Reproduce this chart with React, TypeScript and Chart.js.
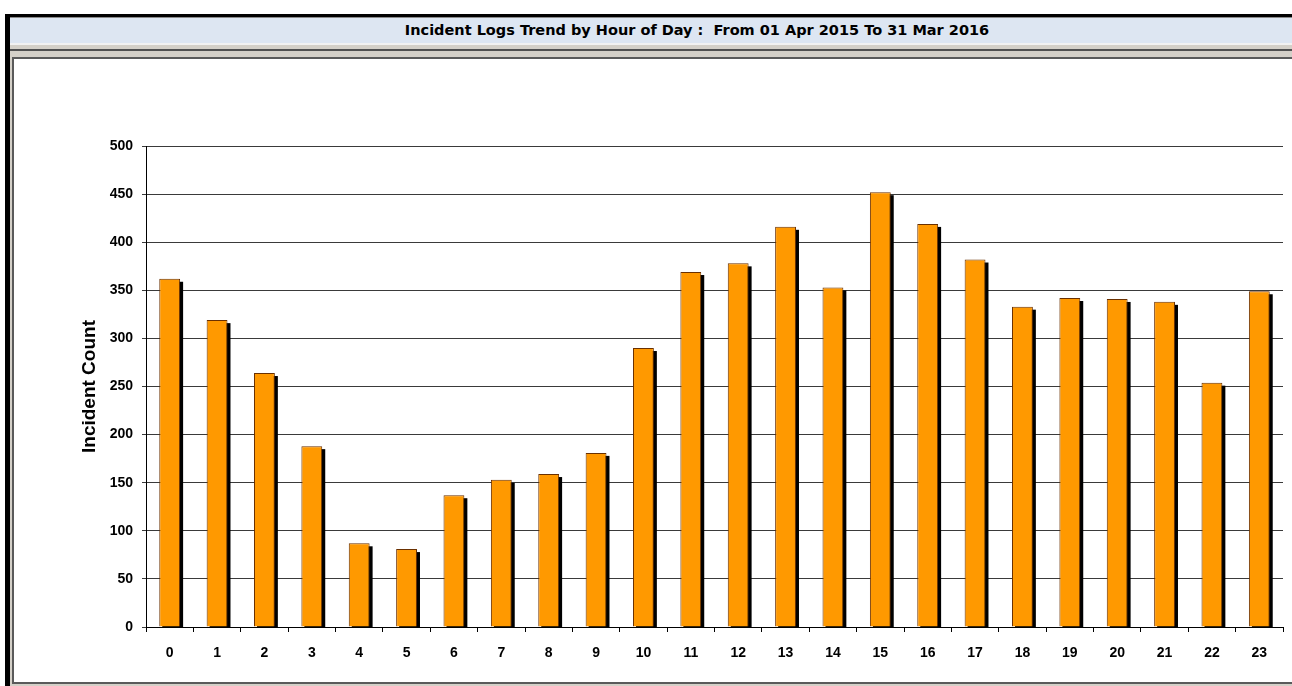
import React, { useEffect, useRef } from "react";
import { Chart, registerables } from "chart.js";

Chart.register(...registerables);

const chartTitle = "Incident Logs Trend by Hour of Day :  From 01 Apr 2015 To 31 Mar 2016";
const yAxisTitle = "Incident Count";
const hours = ["0", "1", "2", "3", "4", "5", "6", "7", "8", "9", "10", "11", "12", "13", "14", "15", "16", "17", "18", "19", "20", "21", "22", "23"];
const incidentCounts = [362, 319, 264, 188, 87, 81, 137, 153, 159, 181, 290, 369, 378, 416, 353, 452, 419, 382, 333, 342, 341, 338, 254, 349];
const yMin = 0;
const yMax = 500;
const yStep = 50;

const FONT = "'Liberation Sans', Arial, sans-serif";
const TITLE_FONT = "'DejaVu Sans', Verdana, sans-serif";

const barShadow = {
  id: "barShadow",
  beforeDatasetsDraw(chart: any) {
    const { ctx, chartArea } = chart;
    const meta = chart.getDatasetMeta(0);
    ctx.save();
    ctx.beginPath();
    ctx.rect(chartArea.left, chartArea.top, chartArea.right - chartArea.left, chartArea.bottom - chartArea.top);
    ctx.clip();
    ctx.fillStyle = "#000000";
    meta.data.forEach((bar: any) => {
      const { x, y, base, width } = bar.getProps(["x", "y", "base", "width"], true);
      ctx.fillRect(x - width / 2 + 3, y + 3, width, base - y);
    });
    ctx.restore();
  },
};

export default function App() {
  const canvasRef = useRef<HTMLCanvasElement | null>(null);

  useEffect(() => {
    if (!canvasRef.current) return;
    const chart = new Chart(canvasRef.current, {
      type: "bar",
      data: {
        labels: hours,
        datasets: [
          {
            label: yAxisTitle,
            data: incidentCounts,
            backgroundColor: "#FF9900",
            borderColor: "#6a3000",
            borderWidth: 1,
            barPercentage: 0.44,
            categoryPercentage: 1,
          },
        ],
      },
      options: {
        animation: false,
        responsive: false,
        devicePixelRatio: 1,
        layout: { padding: { top: 86, right: 1, bottom: 15, left: 0 } },
        plugins: {
          legend: { display: false },
          tooltip: { enabled: false },
          title: { display: false },
        },
        scales: {
          x: {
            afterFit: (scale: any) => {
              scale.height = 40;
            },
            grid: {
              display: true,
              drawOnChartArea: false,
              drawTicks: true,
              tickLength: 5,
              color: "#000000",
              offset: true,
            },
            border: { display: true, color: "#000000", width: 1 },
            ticks: {
              color: "#000000",
              padding: 13,
              font: { family: FONT, weight: "bold", size: 14 },
              maxRotation: 0,
              autoSkip: false,
            },
          },
          y: {
            min: yMin,
            max: yMax,
            afterFit: (scale: any) => {
              scale.width = 132;
            },
            grid: {
              color: "#3a3a3a",
              lineWidth: 1,
              drawTicks: true,
              tickLength: 4,
            },
            border: { display: true, color: "#000000", width: 1 },
            ticks: {
              stepSize: yStep,
              color: "#000000",
              padding: 9,
              font: { family: FONT, weight: "bold", size: 14 },
            },
            title: {
              display: true,
              text: yAxisTitle,
              color: "#000000",
              font: { family: FONT, weight: "bold", size: 19 },
              padding: { top: 64, bottom: 0 },
            },
          },
        },
      },
      plugins: [barShadow],
    });
    return () => chart.destroy();
  }, []);

  return (
    <div
      style={{
        position: "fixed",
        left: 0,
        top: 0,
        width: 1292,
        height: 686,
        background: "#ffffff",
        overflow: "hidden",
      }}
    >
      <div style={{ position: "absolute", left: 10, top: 43, width: 1282, height: 643, background: "#d4d0c8" }} />
      <div style={{ position: "absolute", left: 10, top: 43, width: 1282, height: 2, background: "#f2f2f2" }} />
      <div style={{ position: "absolute", left: 10, top: 49, width: 1282, height: 2, background: "#505050" }} />
      <div
        style={{
          position: "absolute",
          left: 10,
          top: 17,
          width: 1282,
          height: 26,
          background: "#dde6f2",
          borderTop: "1px solid #8a8a8a",
          boxSizing: "border-box",
        }}
      />
      <div
        style={{
          position: "absolute",
          left: 102,
          top: 17,
          width: 1190,
          height: 26,
          lineHeight: "27px",
          textAlign: "center",
          whiteSpace: "pre",
          fontFamily: TITLE_FONT,
          fontWeight: "bold",
          fontSize: 14.5,
          color: "#000000",
        }}
      >
        {chartTitle}
      </div>
      <div style={{ position: "absolute", left: 5, top: 14, width: 1287, height: 3, background: "#000000" }} />
      <div style={{ position: "absolute", left: 5, top: 14, width: 5, height: 672, background: "#000000" }} />
      <div
        style={{
          position: "absolute",
          left: 12,
          top: 57,
          width: 1280,
          height: 627,
          background: "#ffffff",
          borderTop: "2px solid #5a5a5a",
          borderLeft: "2px solid #5a5a5a",
          borderBottom: "2px solid #5a5a5a",
          boxSizing: "border-box",
        }}
      />
      <canvas
        ref={canvasRef}
        width={1270}
        height={622}
        style={{ position: "absolute", left: 14, top: 60, width: 1270, height: 622 }}
      />
    </div>
  );
}
